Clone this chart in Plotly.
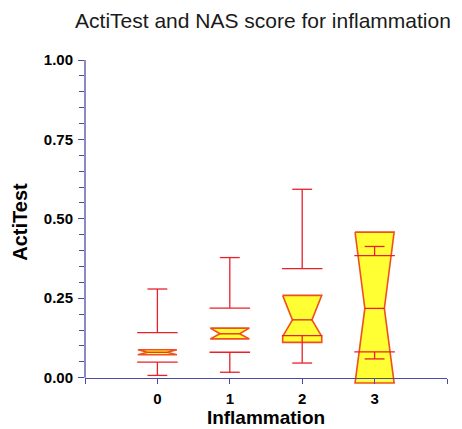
import plotly.graph_objects as go

# ---- data ----
categories = [0, 1, 2, 3]
cap_high = [0.279, 0.378, 0.593, 0.413]
hinge_high = [0.142, 0.219, 0.343, 0.384]
box_high = [0.088, 0.156, 0.259, 0.458]
notch_high = [0.088, 0.156, 0.259, 0.458]
medians = [0.080, 0.138, 0.182, 0.218]
notch_low = [0.072, 0.122, 0.130, -0.017]
box_low = [0.072, 0.122, 0.111, -0.017]
hinge_low = [0.049, 0.080, 0.132, 0.081]
cap_low = [0.007, 0.017, 0.046, 0.059]

x_tickvals = [-1, 0, 1, 2, 3, 4]
x_ticktext = ["", "0", "1", "2", "3", ""]
y_tickvals = [0, 0.25, 0.5, 0.75, 1.0]

# ---- styles ----
BOX_W = 0.27      # half width of box
NOTCH_W = 0.135   # half width at the notch
HINGE_W = 0.28    # half width of hinge lines
CAP_W = 0.137     # half width of whisker caps
FILL = "#ffff33"
OUTLINE = "#f0501e"
LINE = "#e8202a"
AXIS = "#4b4ba6"
FONT = "Liberation Sans, Arial, sans-serif"
Y_MIN, Y_MAX = -0.02, 1.0

fig = go.Figure()

# notched boxes
for c, bh, nh, m, nl, bl in zip(categories, box_high, notch_high, medians, notch_low, box_low):
    xs = [c - BOX_W, c + BOX_W, c + BOX_W, c + NOTCH_W, c + BOX_W, c + BOX_W,
          c - BOX_W, c - BOX_W, c - NOTCH_W, c - BOX_W, c - BOX_W]
    ys = [bh, bh, nh, m, nl, bl, bl, nl, m, nh, bh]
    fig.add_trace(go.Scatter(x=xs, y=ys, mode="lines", fill="toself",
                             fillcolor=FILL, line=dict(color=OUTLINE, width=1.6),
                             hoverinfo="skip", showlegend=False))

# medians, hinges, whiskers, caps
lx, ly = [], []
for c, ch, hh, m, hl, cl in zip(categories, cap_high, hinge_high, medians, hinge_low, cap_low):
    lx += [c - NOTCH_W, c + NOTCH_W, None]; ly += [m, m, None]
    lx += [c - HINGE_W, c + HINGE_W, None]; ly += [hh, hh, None]
    lx += [c - HINGE_W, c + HINGE_W, None]; ly += [hl, hl, None]
    lx += [c, c, None]; ly += [hh, ch, None]
    lx += [c, c, None]; ly += [hl, cl, None]
    lx += [c - CAP_W, c + CAP_W, None]; ly += [ch, ch, None]
    lx += [c - CAP_W, c + CAP_W, None]; ly += [cl, cl, None]
fig.add_trace(go.Scatter(x=lx, y=ly, mode="lines", line=dict(color=LINE, width=1.3),
                         hoverinfo="skip", showlegend=False))

zero_frac = (0 - Y_MIN) / (Y_MAX - Y_MIN)

fig.update_layout(
    width=462, height=429,
    margin=dict(l=85, r=15, t=60, b=45),
    paper_bgcolor="white", plot_bgcolor="white",
    font=dict(family=FONT, color="black"),
    title=dict(text="ActiTest and NAS score for inflammation",
               x=263 / 462, xref="container", xanchor="center",
               y=1 - 21 / 429, yref="container", yanchor="middle",
               font=dict(size=21, color="#1a1a1a", family=FONT)),
    xaxis=dict(range=[-1, 4], anchor="free", position=zero_frac,
               showline=True, linecolor=AXIS, linewidth=1.3,
               showgrid=False, zeroline=False,
               tickmode="array", tickvals=x_tickvals, ticktext=x_ticktext,
               ticks="outside", ticklen=5, tickwidth=1.2, tickcolor=AXIS,
               tickfont=dict(size=15, weight="bold", color="black"),
               ticklabelstandoff=2,
               title=dict(text="Inflammation", standoff=4,
                          font=dict(size=19, weight="bold", color="black")),
               automargin=False),
    yaxis=dict(range=[Y_MIN, Y_MAX], domain=[0, 1],
               showline=False, showgrid=False, zeroline=False,
               tickmode="array", tickvals=y_tickvals, tickformat=".2f",
               ticks="outside", ticklen=6, tickwidth=1.2, tickcolor=AXIS,
               minor=dict(dtick=0.05, tick0=0, ticks="outside", ticklen=5,
                          tickwidth=1.2, tickcolor=AXIS, showgrid=False),
               tickfont=dict(size=15, weight="bold", color="black"),
               ticklabelstandoff=2,
               title=dict(text="ActiTest", standoff=10,
                          font=dict(size=20, weight="bold", color="black")),
               automargin=False),
    shapes=[dict(type="line", xref="paper", yref="paper",
                 x0=0, x1=0, y0=zero_frac, y1=1,
                 line=dict(color=AXIS, width=1.3))],
)

fig.write_html("out.html")
